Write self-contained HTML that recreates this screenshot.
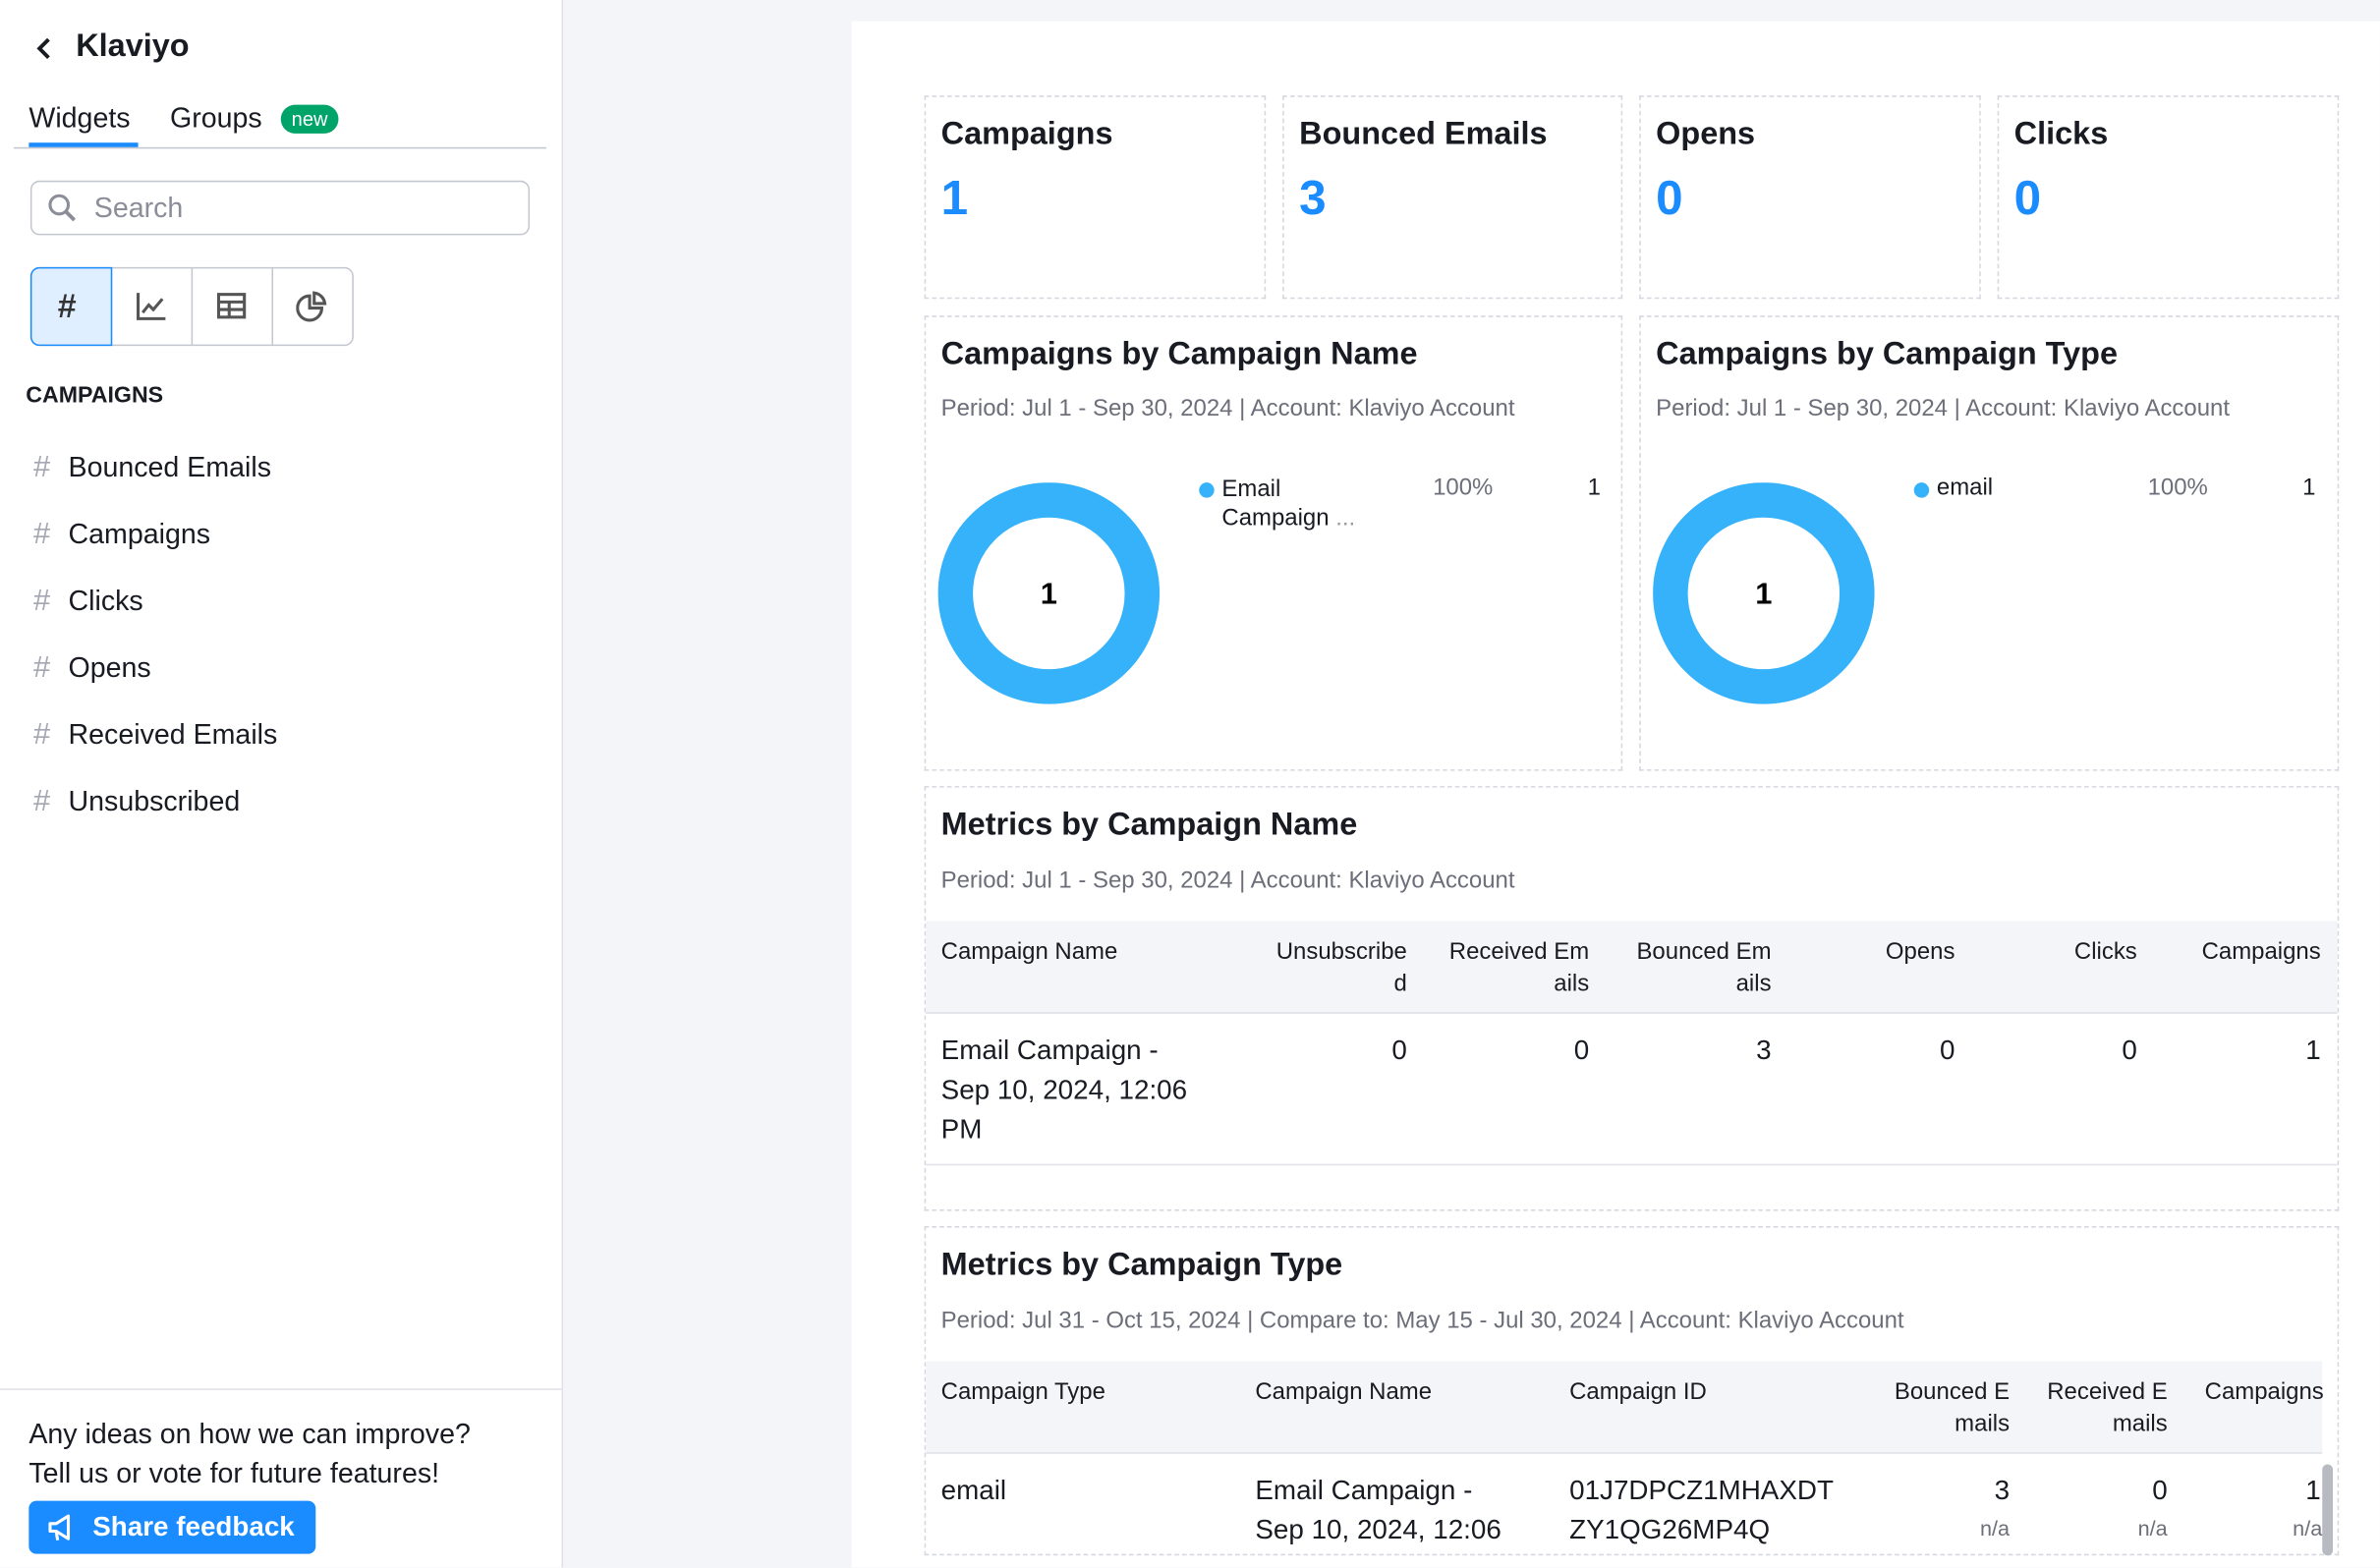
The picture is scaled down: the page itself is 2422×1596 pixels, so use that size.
<!DOCTYPE html>
<html><head><meta charset="utf-8"><style>
*{box-sizing:border-box;margin:0;padding:0}
html,body{width:2422px;height:1596px;overflow:hidden;background:#f4f5f8;font-family:"Liberation Sans",sans-serif;color:#191b23}
#w{position:absolute;left:0;top:0;width:1568px;height:1033px;transform:scale(1.5446);transform-origin:0 0;background:#f4f5f8;overflow:hidden}
.a{position:absolute;white-space:nowrap}
#side{position:absolute;left:0;top:0;width:371px;height:1033px;background:#fff;border-right:1px solid #e0e1e9}
#main{position:absolute;left:561px;top:14px;width:1007px;height:1019px;background:#fff}
.card{position:absolute;border:1px dashed #d6d8df;background:#fff}
.t{font-weight:bold;font-size:21px}
.v{font-weight:bold;font-size:32px;color:#1a8cff}
.s{font-size:15.5px;color:#6c6e79}
.th{font-size:15.5px;color:#191b23;line-height:21px}
.td{font-size:18px;line-height:26px}
.h{color:#a4a6b3;font-size:20px}
.li{font-size:18.5px}
</style></head><body><div id="w">
<div id="side">
<svg class="a" style="left:22px;top:24px" width="14" height="16"><path d="M10 2 L4 8 L10 14" fill="none" stroke="#191b23" stroke-width="2.5"/></svg>
<div class="a" style="left:50px;top:19px;font-size:21px;font-weight:bold">Klaviyo</div>
<div class="a" style="left:19px;top:67px;font-size:18.5px">Widgets</div>
<div class="a" style="left:19px;top:94px;width:72px;height:3px;background:#1a8cff"></div>
<div class="a" style="left:112px;top:67px;font-size:18.5px">Groups</div>
<div class="a" style="left:185px;top:69px;width:38px;height:19px;border-radius:10px;background:#00a368;color:#fff;font-size:13px;text-align:center;line-height:19px">new</div>
<div class="a" style="left:9px;top:97px;width:351px;height:1px;background:#c4c7cf"></div>
<div class="a" style="left:20px;top:119px;width:329px;height:36px;border:1px solid #c4c7cf;border-radius:6px"></div>
<svg class="a" style="left:31px;top:127px" width="20" height="20"><circle cx="8" cy="8" r="6" fill="none" stroke="#8b8d98" stroke-width="2"/><line x1="12" y1="12" x2="18" y2="18" stroke="#8b8d98" stroke-width="2.5"/></svg>
<div class="a" style="left:62px;top:126px;font-size:18.5px;color:#8b8d98">Search</div>
<div class="a" style="left:20px;top:176px;width:213px;height:52px;border:1px solid #c4c7cf;border-radius:6px"></div>
<div class="a" style="left:20px;top:176px;width:54px;height:52px;border:1px solid #1a8cff;border-radius:6px 0 0 6px;background:#e0efff"></div>
<div class="a" style="left:126px;top:177px;width:1px;height:50px;background:#c4c7cf"></div>
<div class="a" style="left:179px;top:177px;width:1px;height:50px;background:#c4c7cf"></div>
<div class="a" style="left:38px;top:189px;font-size:22px;color:#333;font-weight:bold">#</div>
<svg class="a" style="left:89px;top:191px" width="22" height="22"><path d="M2 2 L2 19 L20 19" fill="none" stroke="#555" stroke-width="2"/><path d="M5 15 L9 10 L12 13 L18 6" fill="none" stroke="#555" stroke-width="2"/></svg>
<svg class="a" style="left:143px;top:192px" width="20" height="20"><rect x="1" y="2" width="17" height="15" fill="none" stroke="#555" stroke-width="2"/><line x1="1" y1="7" x2="18" y2="7" stroke="#555" stroke-width="2"/><line x1="1" y1="12" x2="18" y2="12" stroke="#555" stroke-width="2"/><line x1="8" y1="7" x2="8" y2="17" stroke="#555" stroke-width="2"/></svg>
<svg class="a" style="left:195px;top:191px" width="22" height="22"><path d="M9 4 A8 8 0 1 0 17 12 L9 12 Z" fill="none" stroke="#555" stroke-width="2"/><path d="M12 2 A8 8 0 0 1 19 9 L12 9 Z" fill="none" stroke="#555" stroke-width="2"/></svg>
<div class="a" style="left:17px;top:252px;font-size:15px;font-weight:bold">CAMPAIGNS</div>
<div class="a h" style="left:22px;top:297px">#</div><div class="a li" style="left:45px;top:297px">Bounced Emails</div>
<div class="a h" style="left:22px;top:341px">#</div><div class="a li" style="left:45px;top:341px">Campaigns</div>
<div class="a h" style="left:22px;top:385px">#</div><div class="a li" style="left:45px;top:385px">Clicks</div>
<div class="a h" style="left:22px;top:429px">#</div><div class="a li" style="left:45px;top:429px">Opens</div>
<div class="a h" style="left:22px;top:473px">#</div><div class="a li" style="left:45px;top:473px">Received Emails</div>
<div class="a h" style="left:22px;top:517px">#</div><div class="a li" style="left:45px;top:517px">Unsubscribed</div>
<div class="a" style="left:0;top:915px;width:370px;height:1px;background:#e0e1e9"></div>
<div class="a li" style="left:19px;top:934px">Any ideas on how we can improve?</div>
<div class="a li" style="left:19px;top:960px">Tell us or vote for future features!</div>
<div class="a" style="left:19px;top:989px;width:189px;height:35px;background:#1a8cff;border-radius:5px;color:#fff;font-size:18px;font-weight:bold;line-height:35px;padding-left:42px">Share feedback</div>
<svg class="a" style="left:31px;top:997px" width="20" height="20"><path d="M2 7 L2 12 L6 12 L14 17 L14 2 L6 7 Z" fill="none" stroke="#fff" stroke-width="2" stroke-linejoin="round"/><path d="M6 12 L7 18" stroke="#fff" stroke-width="2"/></svg>
</div>
<div id="main"></div>
<div class="card" style="left:609px;top:63px;width:225px;height:134px"></div>
<div class="card" style="left:845px;top:63px;width:224px;height:134px"></div>
<div class="card" style="left:1080px;top:63px;width:225px;height:134px"></div>
<div class="card" style="left:1316px;top:63px;width:225px;height:134px"></div>
<div class="a t" style="left:620px;top:77px">Campaigns</div><div class="a v" style="left:620px;top:112px">1</div>
<div class="a t" style="left:856px;top:77px">Bounced Emails</div><div class="a v" style="left:856px;top:112px">3</div>
<div class="a t" style="left:1091px;top:77px">Opens</div><div class="a v" style="left:1091px;top:112px">0</div>
<div class="a t" style="left:1327px;top:77px">Clicks</div><div class="a v" style="left:1327px;top:112px">0</div>

<div class="card" style="left:609px;top:208px;width:460px;height:300px"></div>
<div class="card" style="left:1080px;top:208px;width:461px;height:300px"></div>
<div class="a t" style="left:620px;top:222px">Campaigns by Campaign Name</div>
<div class="a s" style="left:620px;top:261px">Period: Jul 1 - Sep 30, 2024 | Account: Klaviyo Account</div>
<svg class="a" style="left:618px;top:318px" width="146" height="146"><circle cx="73" cy="73" r="61.5" fill="none" stroke="#36b2fb" stroke-width="23"/><text x="73" y="80" text-anchor="middle" font-family="Liberation Sans" font-weight="bold" font-size="20">1</text></svg>
<div class="a" style="left:790px;top:318px;width:10px;height:10px;border-radius:50%;background:#36b2fb"></div>
<div class="a" style="left:805px;top:313px;font-size:15.5px;line-height:19px">Email<br>Campaign <span style="color:#999">...</span></div>
<div class="a s" style="left:944px;top:313px">100%</div>
<div class="a" style="left:1046px;top:313px;font-size:15.5px">1</div>
<div class="a t" style="left:1091px;top:222px">Campaigns by Campaign Type</div>
<div class="a s" style="left:1091px;top:261px">Period: Jul 1 - Sep 30, 2024 | Account: Klaviyo Account</div>
<svg class="a" style="left:1089px;top:318px" width="146" height="146"><circle cx="73" cy="73" r="61.5" fill="none" stroke="#36b2fb" stroke-width="23"/><text x="73" y="80" text-anchor="middle" font-family="Liberation Sans" font-weight="bold" font-size="20">1</text></svg>
<div class="a" style="left:1261px;top:318px;width:10px;height:10px;border-radius:50%;background:#36b2fb"></div>
<div class="a" style="left:1276px;top:313px;font-size:15.5px">email</div>
<div class="a s" style="left:1415px;top:313px">100%</div>
<div class="a" style="left:1517px;top:313px;font-size:15.5px">1</div>

<div class="card" style="left:609px;top:518px;width:932px;height:280px"></div>
<div class="a t" style="left:620px;top:532px">Metrics by Campaign Name</div>
<div class="a s" style="left:620px;top:572px">Period: Jul 1 - Sep 30, 2024 | Account: Klaviyo Account</div>
<div class="a" style="left:610px;top:607px;width:930px;height:61px;background:#f4f5f8;border-bottom:1px solid #e0e1e9"></div>
<div class="a th" style="left:620px;top:617px">Campaign Name</div>
<div class="a th" style="left:820px;top:617px;width:107px;text-align:right">Unsubscribe<br>d</div>
<div class="a th" style="left:940px;top:617px;width:107px;text-align:right">Received Em<br>ails</div>
<div class="a th" style="left:1060px;top:617px;width:107px;text-align:right">Bounced Em<br>ails</div>
<div class="a th" style="left:1180px;top:617px;width:108px;text-align:right">Opens</div>
<div class="a th" style="left:1300px;top:617px;width:108px;text-align:right">Clicks</div>
<div class="a th" style="left:1420px;top:617px;width:109px;text-align:right">Campaigns</div>
<div class="a td" style="left:620px;top:679px">Email Campaign -<br>Sep 10, 2024, 12:06<br>PM</div>
<div class="a td" style="left:820px;top:679px;width:107px;text-align:right">0</div>
<div class="a td" style="left:940px;top:679px;width:107px;text-align:right">0</div>
<div class="a td" style="left:1060px;top:679px;width:107px;text-align:right">3</div>
<div class="a td" style="left:1180px;top:679px;width:108px;text-align:right">0</div>
<div class="a td" style="left:1300px;top:679px;width:108px;text-align:right">0</div>
<div class="a td" style="left:1420px;top:679px;width:109px;text-align:right">1</div>
<div class="a" style="left:610px;top:767px;width:930px;height:1px;background:#e0e1e9"></div>

<div class="card" style="left:609px;top:808px;width:932px;height:217px"></div>
<div class="a t" style="left:620px;top:822px">Metrics by Campaign Type</div>
<div class="a s" style="left:620px;top:862px">Period: Jul 31 - Oct 15, 2024 | Compare to: May 15 - Jul 30, 2024 | Account: Klaviyo Account</div>
<div class="a" style="left:610px;top:897px;width:920px;height:61px;background:#f4f5f8;border-bottom:1px solid #e0e1e9"></div>
<div class="a th" style="left:620px;top:907px">Campaign Type</div>
<div class="a th" style="left:827px;top:907px">Campaign Name</div>
<div class="a th" style="left:1034px;top:907px">Campaign ID</div>
<div class="a th" style="left:1220px;top:907px;width:104px;text-align:right">Bounced E<br>mails</div>
<div class="a th" style="left:1320px;top:907px;width:108px;text-align:right">Received E<br>mails</div>
<div class="a th" style="left:1430px;top:907px;width:101px;text-align:right">Campaigns</div>
<div class="a td" style="left:620px;top:969px">email</div>
<div class="a td" style="left:827px;top:969px">Email Campaign -<br>Sep 10, 2024, 12:06</div>
<div class="a td" style="left:1034px;top:969px">01J7DPCZ1MHAXDT<br>ZY1QG26MP4Q</div>
<div class="a td" style="left:1220px;top:969px;width:104px;text-align:right">3</div>
<div class="a s" style="left:1220px;top:999px;width:104px;text-align:right;font-size:14px">n/a</div>
<div class="a td" style="left:1320px;top:969px;width:108px;text-align:right">0</div>
<div class="a s" style="left:1320px;top:999px;width:108px;text-align:right;font-size:14px">n/a</div>
<div class="a td" style="left:1430px;top:969px;width:99px;text-align:right">1</div>
<div class="a s" style="left:1430px;top:999px;width:100px;text-align:right;font-size:14px">n/a</div>
<div class="a" style="left:1530px;top:965px;width:7px;height:60px;background:#b8bac2;border-radius:4px"></div>
</div></body></html>
